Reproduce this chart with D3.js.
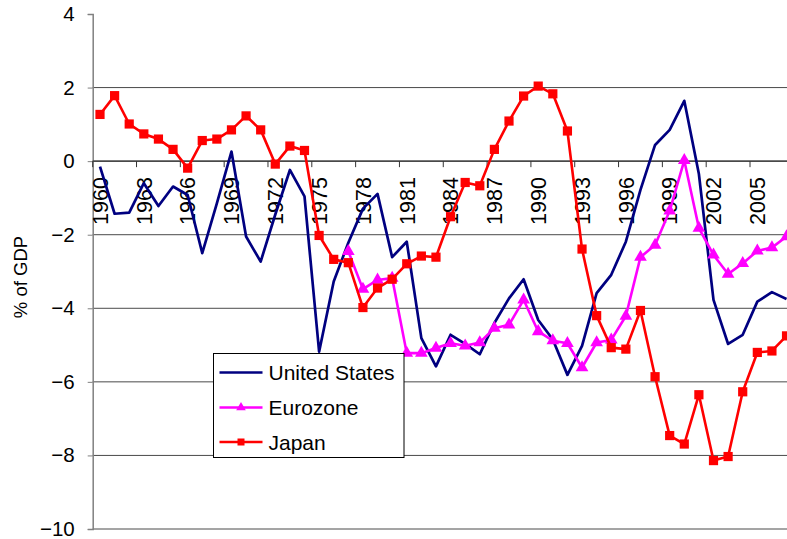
<!DOCTYPE html>
<html>
<head>
<meta charset="utf-8">
<script src="https://cdn.jsdelivr.net/npm/d3@7"></script>
<style>
  html, body { margin: 0; padding: 0; background: #fff; }
  svg { display: block; font-family: Arial, "Liberation Sans", sans-serif; }
</style>
</head>
<body>
<svg id="chart" width="787" height="539"></svg>
<script>
// Budget balance, % of GDP, 1960-2007
const years = d3.range(1960, 2008);

const usValues = [
  -0.15, -1.43, -1.40, -0.60, -1.22, -0.69, -0.92, -2.50, -1.15, 0.26,
  -2.05, -2.73, -1.45, -0.24, -0.96, -5.18, -3.27, -2.22, -1.29, -0.89,
  -2.61, -2.19, -4.81, -5.58, -4.72, -4.97, -5.25, -4.40, -3.73, -3.21,
  -4.32, -4.85, -5.81, -5.02, -3.59, -3.09, -2.19, -0.78, 0.44, 0.85,
  1.64, -0.35, -3.77, -4.97, -4.72, -3.82, -3.56, -3.75
];

const euroValues = [
  null, null, null, null, null, null, null, null, null, null,
  null, null, null, null, null, null, null, -2.45, -3.48, -3.23,
  -3.18, -5.22, -5.22, -5.08, -4.95, -5.02, -4.93, -4.54, -4.45, -3.77,
  -4.63, -4.88, -4.95, -5.61, -4.93, -4.86, -4.21, -2.61, -2.28, -1.35,
  0.02, -1.82, -2.55, -3.07, -2.78, -2.44, -2.35, -2.05
];

const japanValues = [
  1.27, 1.78, 1.01, 0.74, 0.60, 0.32, -0.19, 0.56, 0.60, 0.85,
  1.23, 0.85, -0.08, 0.41, 0.29, -2.02, -2.67, -2.76, -3.98, -3.45,
  -3.21, -2.79, -2.58, -2.61, -1.51, -0.58, -0.67, 0.32, 1.09, 1.77,
  2.04, 1.83, 0.82, -2.39, -4.20, -5.07, -5.11, -4.06, -5.86, -7.46,
  -7.69, -6.35, -8.14, -8.03, -6.27, -5.20, -5.16, -4.75
];

const yTicks = [4, 2, 0, -2, -4, -6, -8, -10];
const yearLabels = d3.range(1960, 2008, 3);
const seriesNames = ["United States", "Eurozone", "Japan"];

const svg = d3.select("#chart");

const plotLeft = 92.7, bandW = 14.607;
const x = d3.scaleBand()
  .domain(years)
  .range([plotLeft, plotLeft + years.length * bandW])
  .paddingInner(0).paddingOuter(0);
const y = d3.scaleLinear().domain([-10, 4]).range([529, 14]);
const cx = yr => x(yr) + x.bandwidth() / 2;

// horizontal gridlines
svg.append("g")
  .selectAll("line")
  .data(yTicks.filter(v => v < 4))
  .join("line")
  .attr("x1", plotLeft).attr("x2", 800)
  .attr("y1", d => y(d)).attr("y2", d => y(d))
  .attr("stroke", "#4a4a4a").attr("stroke-width", 1);

// value axis on the left
const yAxis = d3.axisLeft(y).tickValues(yTicks).tickSize(5).tickPadding(13)
  .tickFormat(d3.format("d"));
const yg = svg.append("g").attr("transform", `translate(${plotLeft},0)`).call(yAxis);
yg.select(".domain").attr("stroke", "#808080").attr("stroke-width", 1.5);
yg.selectAll(".tick line").attr("stroke", "#808080");
yg.selectAll(".tick text")
  .attr("font-size", 20.5).attr("fill", "#000")
  .attr("font-family", "Arial, 'Liberation Sans', sans-serif");

// category axis crossing at zero
const y0 = y(0);
svg.append("line")
  .attr("x1", plotLeft).attr("x2", 800)
  .attr("y1", y0).attr("y2", y0)
  .attr("stroke", "#333").attr("stroke-width", 1.2);

svg.append("g")
  .selectAll("line")
  .data(d3.range(0, years.length + 1, 3))
  .join("line")
  .attr("x1", i => plotLeft + i * bandW).attr("x2", i => plotLeft + i * bandW)
  .attr("y1", y0).attr("y2", y0 + 6)
  .attr("stroke", "#333").attr("stroke-width", 1);

svg.append("g")
  .selectAll("text")
  .data(yearLabels)
  .join("text")
  .attr("transform", d => `translate(${cx(d)},${y0 + 16}) rotate(-90)`)
  .attr("text-anchor", "end")
  .attr("dy", "0.36em")
  .attr("font-size", 21.5)
  .attr("fill", "#000")
  .text(d => d);

// y-axis title
svg.append("text")
  .attr("transform", `translate(20,${y(-3.15)}) rotate(-90)`)
  .attr("text-anchor", "middle")
  .attr("dy", "0.36em")
  .attr("font-size", 18.5)
  .attr("fill", "#000")
  .text("% of GDP");

// series
const line = d3.line()
  .defined(d => d.v !== null)
  .x(d => cx(d.year))
  .y(d => y(d.v));

const toPoints = vals => years.map((yr, i) => ({ year: yr, v: vals[i] }));

const tri = d3.symbol().type(d3.symbolTriangle).size(70);

// United States
svg.append("path")
  .datum(toPoints(usValues))
  .attr("d", line)
  .attr("fill", "none")
  .attr("stroke", "#000080")
  .attr("stroke-width", 2.7)
  .attr("stroke-linejoin", "round");

// Eurozone
const euroPts = toPoints(euroValues).filter(d => d.v !== null);
svg.append("path")
  .datum(euroPts)
  .attr("d", line)
  .attr("fill", "none")
  .attr("stroke", "#FF00FF")
  .attr("stroke-width", 2.6)
  .attr("stroke-linejoin", "round");
svg.append("g")
  .selectAll("path")
  .data(euroPts)
  .join("path")
  .attr("d", tri)
  .attr("transform", d => `translate(${cx(d.year)},${y(d.v)})`)
  .attr("fill", "#FF00FF");

// Japan
const japanPts = toPoints(japanValues);
svg.append("path")
  .datum(japanPts)
  .attr("d", line)
  .attr("fill", "none")
  .attr("stroke", "#FF0000")
  .attr("stroke-width", 2.6)
  .attr("stroke-linejoin", "round");
svg.append("g")
  .selectAll("rect")
  .data(japanPts)
  .join("rect")
  .attr("x", d => cx(d.year) - 4.6)
  .attr("y", d => y(d.v) - 4.6)
  .attr("width", 9.2).attr("height", 9.2)
  .attr("fill", "#FF0000");

// legend
const lg = svg.append("g").attr("transform", "translate(213.5,353.5)");
lg.append("rect")
  .attr("width", 190.5).attr("height", 104)
  .attr("fill", "#fff").attr("stroke", "#000").attr("stroke-width", 1);
const legendColors = ["#000080", "#FF00FF", "#FF0000"];
const legendRows = [19, 54, 88.5];
seriesNames.forEach((name, i) => {
  const row = lg.append("g").attr("transform", `translate(0,${legendRows[i]})`);
  row.append("line")
    .attr("x1", 6).attr("x2", 49).attr("y1", 0).attr("y2", 0)
    .attr("stroke", legendColors[i]).attr("stroke-width", 2.6);
  if (i === 1) {
    row.append("path")
      .attr("d", d3.symbol().type(d3.symbolTriangle).size(40))
      .attr("transform", "translate(27.5,0)")
      .attr("fill", legendColors[i]);
  } else if (i === 2) {
    row.append("rect")
      .attr("x", 24).attr("y", -3.5).attr("width", 7).attr("height", 7)
      .attr("fill", legendColors[i]);
  }
  row.append("text")
    .attr("x", 55).attr("y", 0).attr("dy", "0.36em")
    .attr("font-size", 21).attr("fill", "#000")
    .text(name);
});
</script>
</body>
</html>
